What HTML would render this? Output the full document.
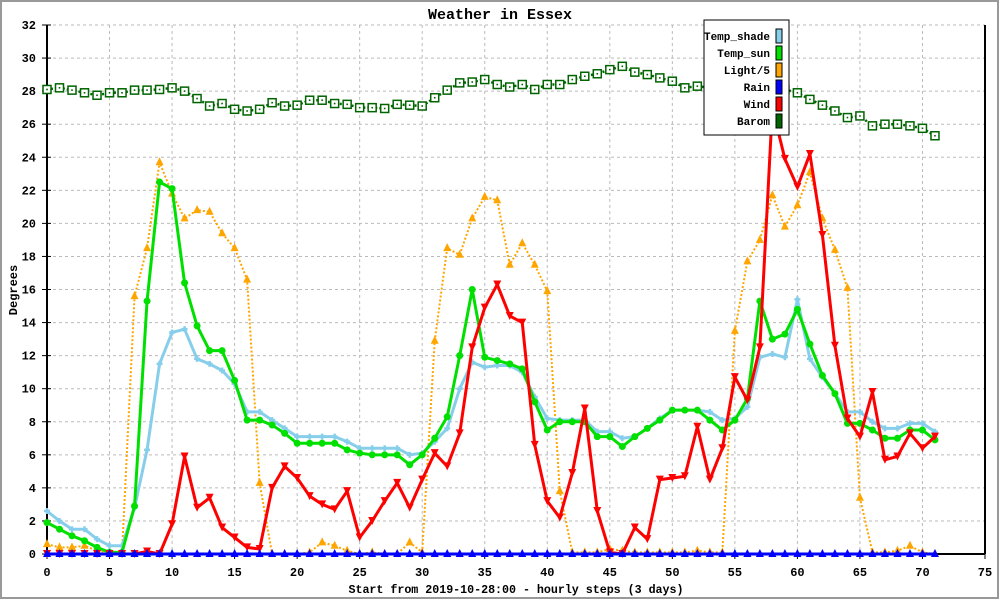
<!DOCTYPE html>
<html><head><meta charset="utf-8"><style>
html,body{margin:0;padding:0;background:#fff}
svg{display:block}
text{font-family:"Liberation Mono",monospace;font-weight:bold;fill:#000}
</style></head><body>
<svg id="chart" width="1000" height="600" xmlns="http://www.w3.org/2000/svg">
<rect x="1" y="1" width="997" height="597" fill="#fff" stroke="#999" stroke-width="2"/>
<text x="500" y="19" text-anchor="middle" font-size="15">Weather in Essex</text>
<text x="0" y="0" transform="translate(17,290) rotate(-90)" text-anchor="middle" font-size="12">Degrees</text>
<text x="516" y="593" text-anchor="middle" font-size="11.7" textLength="335">Start from 2019-10-28:00 - hourly steps (3 days)</text>
<g id="grid"></g>
<g id="axes"></g>
<g id="series"></g>
<g id="legend"></g>
</svg>
<script>
const xTicks = [0,5,10,15,20,25,30,35,40,45,50,55,60,65,70,75];
const yTicks = [0,2,4,6,8,10,12,14,16,18,20,22,24,26,28,30,32];
const seriesNames = ["Temp_shade","Temp_sun","Light/5","Rain","Wind","Barom"];
const tempShade = [2.6,2.0,1.5,1.5,0.9,0.5,0.5,2.8,6.3,11.5,13.4,13.6,11.8,11.5,11.1,10.3,8.6,8.6,8.1,7.6,7.1,7.1,7.1,7.1,6.8,6.4,6.4,6.4,6.4,6.0,6.1,6.8,7.6,10.0,11.6,11.3,11.4,11.4,11.0,9.5,8.2,8.1,8.1,8.1,7.4,7.4,7.0,7.1,7.6,8.2,8.7,8.7,8.7,8.6,8.1,8.2,8.9,11.9,12.1,11.9,15.4,11.8,10.7,9.7,8.6,8.6,8.0,7.6,7.6,7.9,7.9,7.4];
const tempSun = [1.9,1.5,1.1,0.8,0.4,0.1,0.1,2.9,15.3,22.5,22.1,16.4,13.8,12.3,12.3,10.5,8.1,8.1,7.8,7.3,6.7,6.7,6.7,6.7,6.3,6.1,6.0,6.0,6.0,5.4,6.0,7.0,8.3,12.0,16.0,11.9,11.7,11.5,11.2,9.2,7.5,8.0,8.0,8.0,7.1,7.1,6.5,7.1,7.6,8.1,8.7,8.7,8.7,8.1,7.5,8.1,9.4,15.3,13.0,13.3,14.8,12.7,10.8,9.7,7.9,7.9,7.5,7.0,7.0,7.5,7.5,6.9];
const light = [0.6,0.4,0.4,0.5,0.2,0.1,0.1,15.6,18.5,23.7,21.8,20.3,20.8,20.7,19.4,18.5,16.6,4.3,0,0,0,0.1,0.7,0.5,0.2,0,0.1,0,0,0.7,0.1,12.9,18.5,18.1,20.3,21.6,21.4,17.5,18.8,17.5,15.9,3.8,0.1,0.1,0.1,0.3,0.2,0.1,0.1,0.1,0.1,0.1,0.2,0.1,0.1,13.5,17.7,19.0,21.7,19.8,21.1,23.1,20.3,18.4,16.1,3.4,0.1,0.1,0.2,0.5,0.1,0];
const rain = [0,0,0,0,0,0,0,0,0,0,0,0,0,0,0,0,0,0,0,0,0,0,0,0,0,0,0,0,0,0,0,0,0,0,0,0,0,0,0,0,0,0,0,0,0,0,0,0,0,0,0,0,0,0,0,0,0,0,0,0,0,0,0,0,0,0,0,0,0,0,0,0];
const wind = [0,0,0,0,0,0,0,0,0.15,0,1.8,5.9,2.8,3.4,1.6,1.0,0.4,0.3,4.0,5.3,4.6,3.5,3.0,2.7,3.8,1.0,2.0,3.2,4.3,2.8,4.5,6.1,5.3,7.3,12.5,14.9,16.3,14.4,14.0,6.6,3.2,2.2,4.9,8.8,2.6,0.1,0,1.6,0.9,4.5,4.6,4.7,7.7,4.5,6.4,10.7,9.3,12.5,27.0,23.9,22.2,24.2,19.3,12.6,8.2,7.1,9.8,5.7,5.9,7.3,6.4,7.1];
const barom = [28.1,28.2,28.06,27.9,27.75,27.9,27.9,28.06,28.06,28.1,28.2,28.0,27.55,27.1,27.25,26.9,26.8,26.9,27.3,27.1,27.15,27.45,27.45,27.25,27.2,27.0,27.0,26.95,27.2,27.15,27.1,27.6,28.06,28.5,28.55,28.7,28.4,28.25,28.4,28.1,28.4,28.4,28.7,28.9,29.05,29.3,29.5,29.15,29.0,28.8,28.6,28.2,28.3,28.2,28.2,28.3,28.3,28.3,28.2,28.1,27.9,27.5,27.15,26.8,26.4,26.5,25.9,26.0,26.0,25.9,25.75,25.3];

const NS="http://www.w3.org/2000/svg";
const X0=47,X1=985,Y0=554,Y1=25;
function xs(v){return X0+(X1-X0)*v/75;}
function ys(v){return Y0-(Y0-Y1)*v/32;}
function mk(tag,attrs,parent){const e=document.createElementNS(NS,tag);for(const k in attrs)e.setAttribute(k,attrs[k]);parent.appendChild(e);return e;}
const grid=document.getElementById('grid'),axes=document.getElementById('axes'),sg=document.getElementById('series'),lg=document.getElementById('legend');

yTicks.forEach(t=>{
  const y=ys(t);
  if(t>0){const l=mk('line',{x1:X0,x2:X1,y1:y,y2:y,stroke:'#bbb','stroke-dasharray':'3,3'},grid);
  
  }
  const tk=mk('line',{x1:X0-5,x2:X0+4,y1:y,y2:y,stroke:'#000'},axes);
  
  
  const tx=mk('text',{x:X0-11,y:y+4,'text-anchor':'end','font-size':12},axes);
  tx.textContent=t;
  
  
});
xTicks.forEach(t=>{
  const x=xs(t);
  if(t>0&&t<75){const l=mk('line',{x1:x,x2:x,y1:Y1,y2:Y0,stroke:'#bbb','stroke-dasharray':'3,3'},grid);
  
  }
  const tk=mk('line',{x1:x,x2:x,y1:Y0-4,y2:Y0+5,stroke:'#000'},axes);
  
  
  const tx=mk('text',{x:x,y:Y0+22,'text-anchor':'middle','font-size':12},axes);
  tx.textContent=t;
  
  
});
const la=mk('line',{x1:X0,x2:X0,y1:Y1,y2:Y0,stroke:'#000','stroke-width':2},axes);


const ba=mk('line',{x1:X0,x2:X1,y1:Y0,y2:Y0,stroke:'#000','stroke-width':2},axes);


const ra=mk('line',{x1:X1,x2:X1,y1:Y1,y2:Y0,stroke:'#000','stroke-width':2},axes);



function marker(kind,x,y,color,g){
  let e;
  if(kind==='circle') e=mk('circle',{cx:x,cy:y,r:3.5,fill:color},g);
  else if(kind==='up') e=mk('polygon',{points:`${x},${y-5} ${x-4},${y+3} ${x+4},${y+3}`,fill:color},g);
  else if(kind==='down') e=mk('polygon',{points:`${x-4},${y-4} ${x+4},${y-4} ${x},${y+4}`,fill:color},g);
  else if(kind==='cross') e=mk('path',{d:`M${x-3},${y}H${x+3}M${x},${y-3}V${y+3}`,stroke:color,'stroke-width':2.5},g);
  else if(kind==='square'){e=mk('rect',{x:x-4,y:y-4,width:8,height:8,fill:'#fff',stroke:color,'stroke-width':1.5},g);
    mk('rect',{x:x-0.8,y:y-0.8,width:1.6,height:1.6,fill:color},g);}
  
  
}
function drawSeries(vals,color,width,dash,kind,name){
  const g=mk('g',{},sg);
  
  
  const pts=vals.map((v,i)=>xs(i)+','+ys(v)).join(' ');
  const attrs={points:pts,fill:'none',stroke:color,'stroke-width':width,'stroke-linejoin':'round'};
  if(dash)attrs['stroke-dasharray']=dash;
  const p=mk('polyline',attrs,g);
  
  
  vals.forEach((v,i)=>marker(kind,xs(i),ys(v),color,g));
}
drawSeries(barom,'#006400',2.5,'2,2','square','barom');
drawSeries(light,'#ffa500',2,'2,2','up','light');
drawSeries(tempShade,'#87ceeb',3,null,'cross','temp-shade');
drawSeries(tempSun,'#00e000',3,null,'circle','temp-sun');
drawSeries(wind,'#ff0000',3,null,'down','wind');
drawSeries(rain,'#0000ff',3,null,'up','rain');

const lb=mk('rect',{x:704,y:20,width:85,height:115,fill:'#fff',stroke:'#000','stroke-width':1},lg);


const lcols=['#87ceeb','#00e000','#ffa500','#0000ff','#ff0000','#006400'];
seriesNames.forEach((n,i)=>{
  const y=36+i*17;
  const t=mk('text',{x:770,y:y+4,'text-anchor':'end','font-size':11,'font-weight':'normal'},lg);
  t.textContent=n;
  
  
  const s=mk('rect',{x:776,y:y-7,width:6,height:14,fill:lcols[i],stroke:'#000','stroke-width':1},lg);
  
  
});
</script>
</body></html>
